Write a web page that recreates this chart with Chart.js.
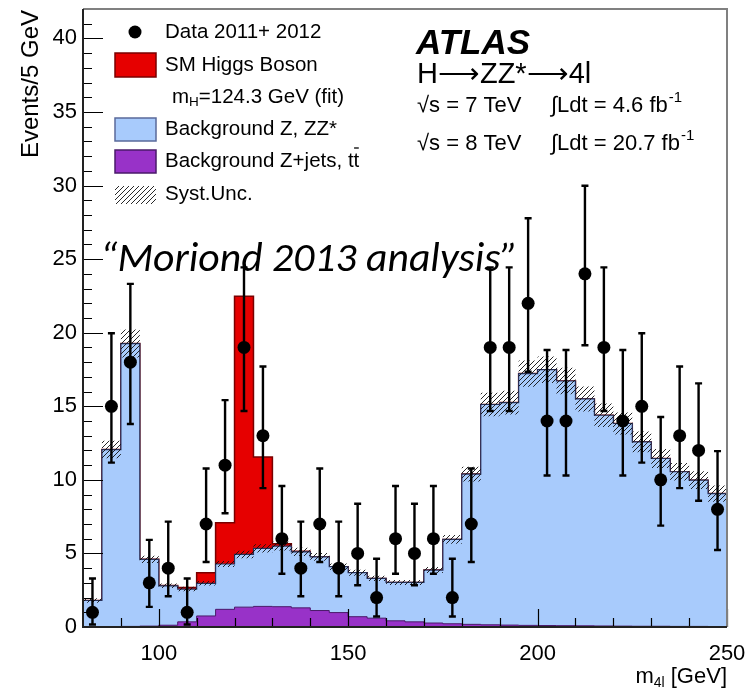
<!DOCTYPE html>
<html><head><meta charset="utf-8">
<script src="https://cdn.jsdelivr.net/npm/chart.js@4.4.1/dist/chart.umd.min.js"></script>
<style>html,body{margin:0;padding:0;background:#fff;}#wrap{width:751px;height:691px;}</style>
</head><body><div id="wrap"><canvas id="c" width="751" height="691"></canvas></div>
<script>
// ---- data (m4l bins of 5 GeV) ----
const binLow = [80,85,90,95,100,105,110,115,120,125,130,135,140,145,150,155,160,165,170,175,180,185,190,195,200,205,210,215,220,225,230,235,240,245];
const binHigh = 250;
const dataCounts = [1,15,18,3,4,1,7,11,19,13,6,4,7,4,5,2,6,5,6,2,7,19,19,22,14,14,24,19,14,15,10,13,12,8];
const dataLow  = [0.17,11.17,13.80,1.37,2.09,0.17,4.42,7.73,14.68,9.44,3.62,2.09,4.42,2.09,2.84,0.71,3.62,2.84,3.62,0.71,4.42,14.68,14.68,17.35,10.30,10.30,19.15,14.68,10.30,11.17,6.89,9.44,8.58,5.23];
const dataHigh = [3.30,19.96,23.32,5.92,7.16,3.30,10.77,15.42,24.44,17.70,9.58,7.16,10.77,7.16,8.38,4.64,9.58,8.38,9.58,4.64,10.77,24.44,24.44,27.78,18.83,18.83,29.99,24.44,18.83,19.96,14.27,17.70,16.56,11.95];
const bkgZjets = [0.02,0.03,0.04,0.06,0.12,0.35,0.75,1.2,1.35,1.4,1.38,1.3,1.12,0.98,0.7,0.6,0.42,0.35,0.27,0.22,0.18,0.15,0.13,0.11,0.1,0.09,0.08,0.07,0.06,0.05,0.05,0.04,0.04,0.03];
const bkgZZ = [1.78,12.03,19.22,4.54,2.68,2.23,2.22,3.08,3.58,3.94,4.12,3.81,3.65,3.12,2.99,2.7,2.61,2.68,3.6,5.73,10.21,14.97,15.12,17.11,17.39,16.63,15.42,14.32,13.77,12.53,11.4,10.51,9.94,9.04];
const signal = [0,0,0,0,0.02,0.1,0.72,2.8,17.54,6.22,0.15,0.03,0,0,0,0,0,0,0,0,0,0,0,0,0,0,0,0,0,0,0,0,0,0];
const syst = [0.15,0.6,0.95,0.25,0.15,0.15,0.15,0.2,0.25,0.28,0.3,0.28,0.26,0.22,0.2,0.18,0.17,0.17,0.2,0.3,0.5,0.8,0.8,0.9,0.9,0.9,0.85,0.8,0.75,0.7,0.65,0.6,0.6,0.55];
const yTickLabels = [0,5,10,15,20,25,30,35,40];
const xTickLabels = [100,150,200,250];

// ---- derived stacks ----
const totBkg = bkgZZ.map((v,i)=>v+bkgZjets[i]);
const totAll = totBkg.map((v,i)=>v+signal[i]);
const systUp = totBkg.map((v,i)=>v+syst[i]);
const systDn = totBkg.map((v,i)=>v-syst[i]);
function stepPts(vals){ const p = binLow.map((x,i)=>({x:x,y:vals[i]})); p.push({x:binHigh,y:vals[vals.length-1]}); return p; }
const centers = binLow.map(x=>x+2.5);

const FONT = "'Liberation Sans', Arial, Helvetica, sans-serif";

function makeHatch(){
  const s=5, c=document.createElement('canvas'); c.width=s; c.height=s;
  const g=c.getContext('2d'); g.strokeStyle='#111'; g.lineWidth=0.9;
  g.beginPath(); g.moveTo(0,s); g.lineTo(s,0); g.moveTo(-1,1); g.lineTo(1,-1); g.moveTo(s-1,s+1); g.lineTo(s+1,s-1); g.stroke();
  return g.createPattern(c,'repeat');
}
const hatch = makeHatch();
const C_BLUE='rgb(168,203,252)', C_RED='#e60000', C_PURP='rgb(152,50,200)';

const decor = {
  id:'decor',
  beforeDraw(chart){ const c=chart.ctx; c.save(); c.fillStyle='#fff'; c.fillRect(0,0,chart.width,chart.height); c.restore(); },
  afterDatasetsDraw(chart){
    const c=chart.ctx, xs=chart.scales.x, ys=chart.scales.y;
    c.save(); c.strokeStyle='#000'; c.lineWidth=2.4;
    centers.forEach((m,i)=>{
      const px=xs.getPixelForValue(m), y1=ys.getPixelForValue(dataLow[i]), y2=ys.getPixelForValue(dataHigh[i]);
      c.beginPath(); c.moveTo(px,y1); c.lineTo(px,y2);
      c.moveTo(px-3.5,y1); c.lineTo(px+3.5,y1); c.moveTo(px-3.5,y2); c.lineTo(px+3.5,y2); c.stroke();
    });
    c.restore();
  },
  afterDraw(chart){
    const c=chart.ctx, xs=chart.scales.x, ys=chart.scales.y, a=chart.chartArea;
    c.save();
    // ticks
    c.strokeStyle='#000'; c.lineWidth=1.2;
    c.beginPath();
    for(let v=0; v<=41; v++){ const py=Math.round(ys.getPixelForValue(v))+0.5; const L=(v%5===0)?20:9; c.moveTo(a.left,py); c.lineTo(a.left+L,py); }
    for(let m=90; m<=250; m+=10){ const px=Math.round(xs.getPixelForValue(m))+0.5; const L=(m%50===0)?18:9; c.moveTo(px,a.bottom); c.lineTo(px,a.bottom-L); }
    c.stroke();
    // frame
    c.strokeStyle='#808080'; c.lineWidth=2;
    c.beginPath(); c.moveTo(a.left,a.top); c.lineTo(a.right,a.top); c.lineTo(a.right,a.bottom); c.stroke();
    c.strokeStyle='#222'; c.lineWidth=2;
    c.beginPath(); c.moveTo(a.left,a.top); c.lineTo(a.left,a.bottom); c.lineTo(a.right,a.bottom); c.stroke();

    // axis titles
    c.fillStyle='#000';
    c.save(); c.translate(31,10); c.rotate(-Math.PI/2);
    c.font='24px '+FONT; c.textAlign='right'; c.textBaseline='middle'; c.fillText('Events/5 GeV',0,0); c.restore();
    // x title m_4l [GeV]
    c.textBaseline='alphabetic'; c.textAlign='left';
    c.font='22px '+FONT;
    const t2=' [GeV]', wM=c.measureText('m').width, w2=c.measureText(t2).width;
    c.font='14px '+FONT; const wS=c.measureText('4l').width;
    let xx=a.right-(wM+wS+w2), by=683;
    c.font='22px '+FONT; c.fillText('m',xx,by); xx+=wM;
    c.font='14px '+FONT; c.fillText('4l',xx,by+4); xx+=wS;
    c.font='22px '+FONT; c.fillText(t2,xx,by);

    // legend
    const lx=165;
    c.font='20.5px '+FONT; c.textBaseline='middle';
    c.beginPath(); c.arc(135,32,6.5,0,Math.PI*2); c.fill();
    c.fillText('Data 2011+ 2012',lx,32);
    function box(y0,h,fill,stroke){ c.fillStyle=fill; c.fillRect(115,y0,41,h); if(stroke){c.strokeStyle=stroke;c.lineWidth=1.5;c.strokeRect(115,y0,41,h);} c.fillStyle='#000'; }
    box(53,24,C_RED,'#7a0000'); c.fillText('SM Higgs Boson',lx,65);
    // m_H line
    let mx=172; c.fillText('m',mx,97); mx+=c.measureText('m').width;
    c.font='13.5px '+FONT; c.fillText('H',mx,102); mx+=c.measureText('H').width;
    c.font='20.5px '+FONT; c.fillText('=124.3 GeV (fit)',mx,97);
    box(118,23,C_BLUE,'#5a6a9a'); c.fillText('Background Z, ZZ*',lx,129);
    box(150,23,C_PURP,'#4a1a6a'); const bz='Background Z+jets, tt'; c.fillText(bz,lx,161);
    const wb=c.measureText(bz).width, wt=c.measureText('t').width;
    c.lineWidth=1.3; c.strokeStyle='#000'; c.beginPath(); c.moveTo(lx+wb-wt+0.5,148); c.lineTo(lx+wb-0.5,148); c.stroke();
    c.fillStyle=hatch; c.fillRect(115,186,41,18); c.fillStyle='#000';
    c.fillText('Syst.Unc.',lx,194);

    // ATLAS block
    c.textBaseline='alphabetic';
    c.font='bold italic 35px '+FONT; c.fillText('ATLAS',416,54);
    c.font='29px '+FONT; c.fillText('H\u27F6ZZ*\u27F64l',417,83);
    function lumi(txt1,txt2,by){
      c.font='22px '+FONT; c.fillText(txt1,417,by);
      c.fillText(txt2,551,by); const w=c.measureText(txt2).width;
      c.font='15px '+FONT; c.fillText('-1',551+w+1,by-10);
    }
    lumi('\u221As = 7 TeV','\u222BLdt = 4.6 fb',112);
    lumi('\u221As = 8 TeV','\u222BLdt = 20.7 fb',150);

    // Moriond label
    c.font="italic 40px Carlito, Lato, 'Open Sans', sans-serif";
    const mt='\u201CMoriond 2013 analysis\u201D';
    const mw=c.measureText(mt).width;
    c.save(); c.translate(100,271); c.scale(418/mw,1); c.fillText(mt,0,0); c.restore();
    c.restore();
  }
};

new Chart(document.getElementById('c'),{
  type:'line',
  data:{datasets:[
    {label:'Data 2011+ 2012', data:centers.map((x,i)=>({x:x,y:dataCounts[i]})), showLine:false, pointRadius:6.5, pointHoverRadius:6.5, pointBackgroundColor:'#000', pointBorderWidth:0, order:0},
    {label:'Background Z+jets, tt', data:stepPts(bkgZjets), stepped:'before', fill:'origin', backgroundColor:C_PURP, borderColor:'#4a1a6a', borderWidth:1, pointRadius:0, order:1},
    {label:'syst up', data:stepPts(systUp), stepped:'before', fill:false, borderWidth:0, borderColor:'rgba(0,0,0,0)', pointRadius:0, order:2},
    {label:'Syst.Unc.', data:stepPts(systDn), stepped:'before', fill:2, backgroundColor:hatch, borderWidth:0, borderColor:'rgba(0,0,0,0)', pointRadius:0, order:2},
    {label:'Background Z, ZZ*', data:stepPts(totBkg), stepped:'before', fill:'origin', backgroundColor:C_BLUE, borderColor:'#28305a', borderWidth:1.2, pointRadius:0, order:3},
    {label:'SM Higgs Boson', data:stepPts(totAll), stepped:'before', fill:'origin', backgroundColor:C_RED, borderColor:'#7a0000', borderWidth:1.5, pointRadius:0, order:4}
  ]},
  options:{
    responsive:false, animation:false, devicePixelRatio:1,
    layout:{padding:{left:0,right:24,top:9,bottom:0}},
    plugins:{legend:{display:false}, tooltip:{enabled:false}},
    elements:{line:{tension:0}},
    scales:{
      x:{type:'linear', min:80, max:250, grid:{display:false, drawTicks:false}, border:{display:false},
         ticks:{font:{family:FONT,size:22}, color:'#000', padding:14, maxRotation:0},
         afterBuildTicks:s=>{ s.ticks = xTickLabels.map(v=>({value:v})); },
         afterFit:s=>{ s.height=64; s.paddingLeft=0; s.paddingRight=0; }},
      y:{type:'linear', min:0, max:42, grid:{display:false, drawTicks:false}, border:{display:false},
         ticks:{font:{family:FONT,size:22}, color:'#000', padding:6},
         afterBuildTicks:s=>{ s.ticks = yTickLabels.map(v=>({value:v})); },
         afterFit:s=>{ s.width=83; s.paddingTop=0; s.paddingBottom=0; }}
    }
  },
  plugins:[decor]
});
</script></body></html>
